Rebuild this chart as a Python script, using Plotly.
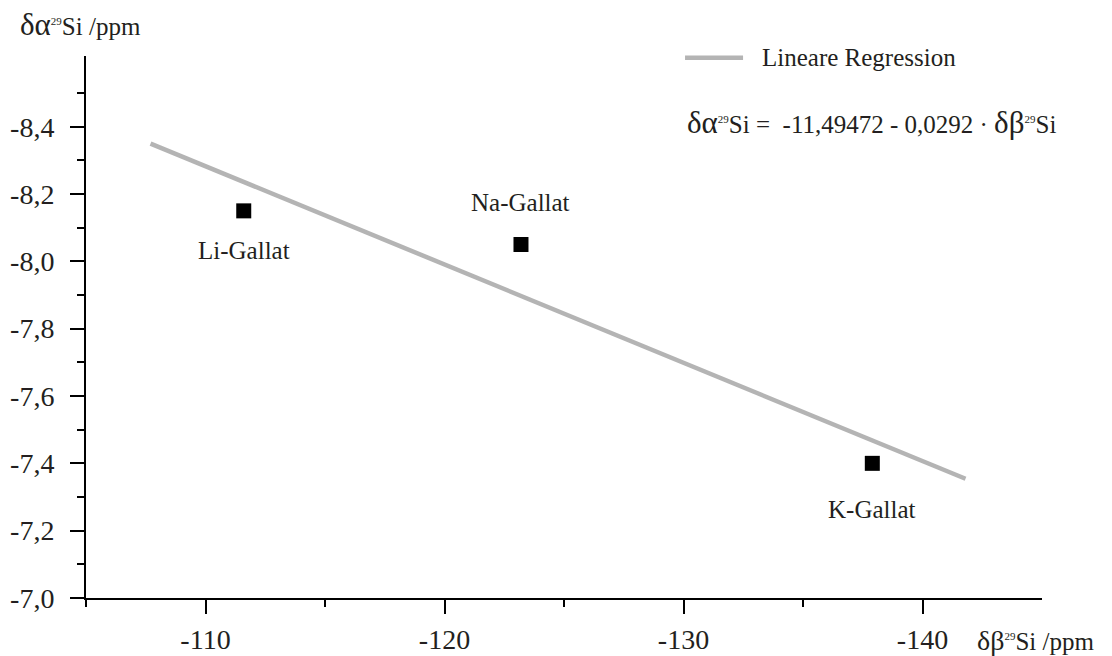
import plotly.graph_objects as go

# Gallate samples: 29Si shifts (ppm)
samples = ["Li-Gallat", "Na-Gallat", "K-Gallat"]
delta_beta = [-111.6, -123.2, -137.9]
delta_alpha = [-8.15, -8.05, -7.40]
label_shift = [-40, 42, -46]

# Linear regression  δα = a + b·δβ
reg_intercept = -11.49472
reg_slope = -0.0292
reg_span = [-107.7, -141.8]
reg_alpha = [reg_intercept + reg_slope * b for b in reg_span]

x_major = [-110, -120, -130, -140]
x_minor = [-105, -115, -125, -135]
y_major = [-7.0, -7.2, -7.4, -7.6, -7.8, -8.0, -8.2, -8.4]
y_minor = [-7.1, -7.3, -7.5, -7.7, -7.9, -8.1, -8.3, -8.5]
y_text = [f"{v:.1f}".replace(".", ",") for v in y_major]

FONT = "Liberation Serif, serif"
INK = "#231f20"
REG_COLOR = "#b4b4b4"

fig = go.Figure()
fig.add_trace(go.Scatter(
    x=reg_span, y=reg_alpha, mode="lines",
    line=dict(color=REG_COLOR, width=4.5),
    name="Lineare Regression", showlegend=False,
))
fig.add_trace(go.Scatter(
    x=delta_beta, y=delta_alpha, mode="markers",
    marker=dict(symbol="square", size=15, color="black"),
    showlegend=False,
))

for name, bx, ay, dy in zip(samples, delta_beta, delta_alpha, label_shift):
    fig.add_annotation(x=bx, y=ay, text=name, showarrow=False,
                       yshift=dy, font=dict(size=25, color=INK, family=FONT))

# legend key for the regression line
fig.add_shape(type="line", xref="paper", yref="paper",
              x0=0.6266, x1=0.6873, y0=0.997, y1=0.997,
              line=dict(color=REG_COLOR, width=4.5))
fig.add_annotation(
    xref="paper", yref="paper", x=0.7045, y=0.997, xanchor="left", yanchor="middle",
    text="Lineare Regression", showarrow=False,
    font=dict(size=25, color=INK, family=FONT),
)

sup = '<sup><span style="font-size:11px">29</span></sup>'
fig.add_annotation(
    xref="paper", yref="paper", x=0.6266, y=0.878, xanchor="left", yanchor="middle",
    text=f'<span style="font-size:31px">δα</span>{sup}Si =  -11,49472 - 0,0292 · '
         f'<span style="font-size:31px">δβ</span>{sup}Si',
    showarrow=False, font=dict(size=25, color=INK, family=FONT),
)
fig.add_annotation(
    xref="paper", yref="paper", x=-0.071, y=1.0, xanchor="left", yanchor="bottom",
    yshift=12,
    text=f'<span style="font-size:31px">δα</span>{sup}Si /ppm',
    showarrow=False, font=dict(size=25, color=INK, family=FONT),
)
fig.add_annotation(
    xref="paper", yref="paper", x=0.930, y=0.0, xanchor="left", yanchor="middle",
    yshift=-42,
    text=f'<span style="font-size:28px">δβ</span>{sup}Si /ppm',
    showarrow=False, font=dict(size=25, color=INK, family=FONT),
)

axis_common = dict(
    showgrid=False, zeroline=False, showline=True, linecolor="black", linewidth=2,
    ticks="outside", ticklen=14, tickwidth=2, tickcolor="black", automargin=False,
    tickfont=dict(size=28, color=INK, family=FONT),
)
fig.update_xaxes(
    range=[-105, -145], tickvals=x_major, ticktext=[str(v) for v in x_major],
    minor=dict(tickvals=x_minor, ticklen=7, tickwidth=2, tickcolor="black", ticks="outside"),
    ticklabelstandoff=1, **axis_common,
)
fig.update_yaxes(
    range=[-7.0, -8.61], tickvals=y_major, ticktext=y_text,
    minor=dict(tickvals=y_minor, ticklen=7, tickwidth=2, tickcolor="black", ticks="outside"),
    ticklabelstandoff=10, **axis_common,
)

fig.update_layout(
    width=1112, height=656,
    margin=dict(l=86, r=70, t=56, b=58),
    plot_bgcolor="white", paper_bgcolor="white",
    font=dict(family=FONT, color=INK),
    showlegend=False,
)

fig.write_html("out.html")
